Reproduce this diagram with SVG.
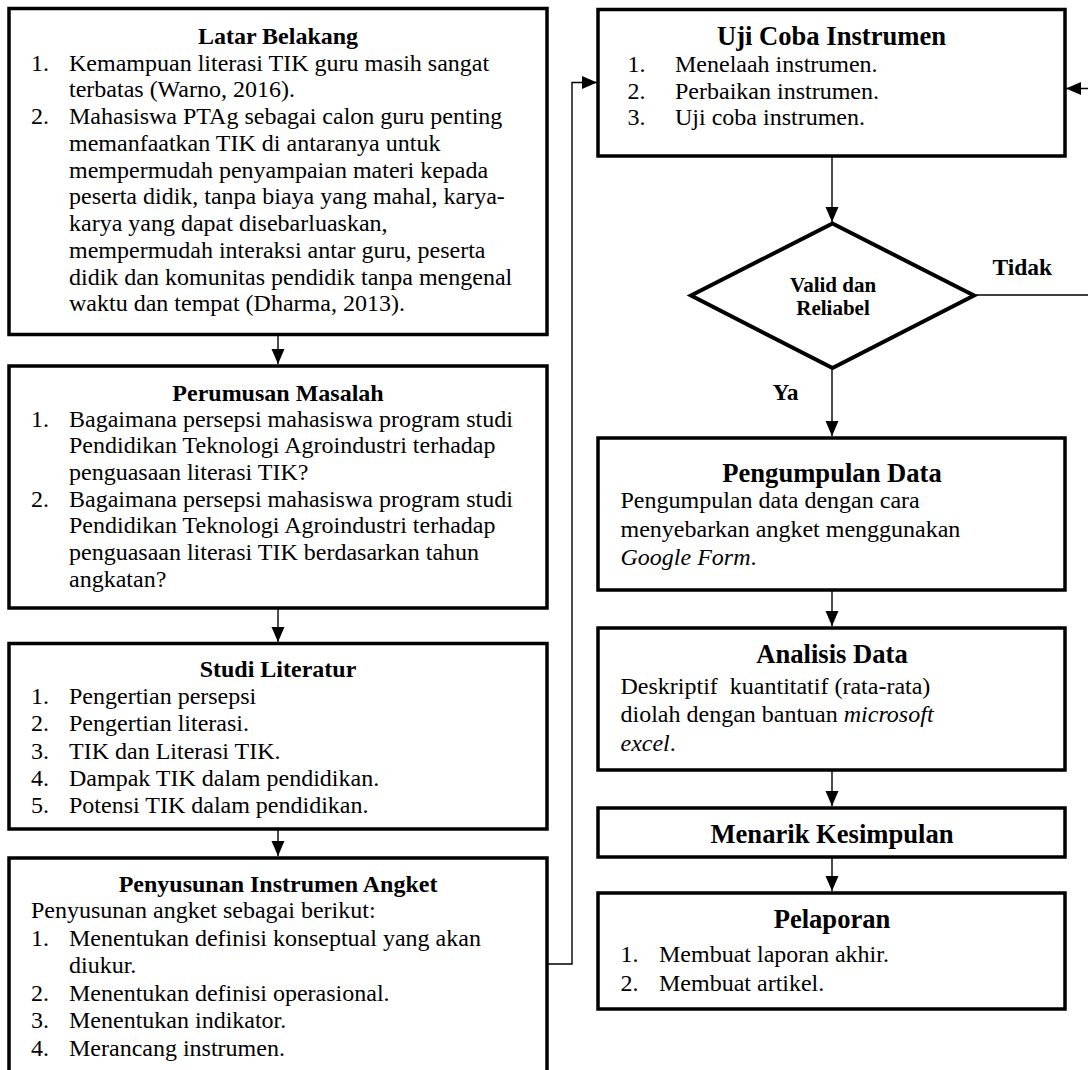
<svg xmlns="http://www.w3.org/2000/svg" width="1088" height="1070" viewBox="0 0 1088 1070">
<style>
  .box { fill: #fff; stroke: #000; stroke-width: 3.5; }
  .t { font-family: "Liberation Serif", "Times New Roman", serif; font-size: 24px; fill: #000; }
  .h { font-family: "Liberation Serif", "Times New Roman", serif; font-size: 24px; font-weight: bold; fill: #000; text-anchor: middle; }
  .h2 { font-family: "Liberation Serif", "Times New Roman", serif; font-size: 26.6px; font-weight: bold; fill: #000; text-anchor: middle; }
  .lbl { font-family: "Liberation Serif", "Times New Roman", serif; font-size: 23.5px; font-weight: bold; fill: #000; }
  .dl { font-family: "Liberation Serif", "Times New Roman", serif; font-size: 21px; font-weight: bold; fill: #000; text-anchor: middle; }
  .i { font-style: italic; }
  .c { fill: none; stroke: #000; stroke-width: 1.4; }
</style>
<defs>
  <marker id="arr" markerUnits="userSpaceOnUse" markerWidth="16" markerHeight="14" refX="15" refY="6.5" orient="auto">
    <path d="M0,0 L15,6.5 L0,13 Z" fill="#000"/>
  </marker>
</defs>
<rect width="1088" height="1070" fill="#fff"/>

<g id="connectors">
  <path class="c" d="M278,335 V364" marker-end="url(#arr)"/>
  <path class="c" d="M278,608 V642" marker-end="url(#arr)"/>
  <path class="c" d="M278,829 V856" marker-end="url(#arr)"/>
  <path class="c" d="M547,964 H572 V82.5 H597" marker-end="url(#arr)"/>
  <path class="c" d="M832,156 V222" marker-end="url(#arr)"/>
  <path class="c" d="M832,368 V436" marker-end="url(#arr)"/>
  <path class="c" d="M974,295 H1100 V88.5 H1066" marker-end="url(#arr)"/>
  <path class="c" d="M832,590 V626" marker-end="url(#arr)"/>
  <path class="c" d="M832,770 V806" marker-end="url(#arr)"/>
  <path class="c" d="M832,857 V891" marker-end="url(#arr)"/>
</g>

<g id="latar-belakang">
  <rect class="box" x="9" y="8.5" width="538" height="326"/>
  <text class="h" x="278" y="44">Latar Belakang</text>
  <text class="t" x="31" y="70.5">1.</text>
  <text class="t" x="69" y="70.5">Kemampuan literasi TIK guru masih sangat</text>
  <text class="t" x="69" y="97.25">terbatas (Warno, 2016).</text>
  <text class="t" x="31" y="124">2.</text>
  <text class="t" x="69" y="124">Mahasiswa PTAg sebagai calon guru penting</text>
  <text class="t" x="69" y="150.75">memanfaatkan TIK di antaranya untuk</text>
  <text class="t" x="69" y="177.5">mempermudah penyampaian materi kepada</text>
  <text class="t" x="69" y="204.25">peserta didik, tanpa biaya yang mahal, karya-</text>
  <text class="t" x="69" y="231">karya yang dapat disebarluaskan,</text>
  <text class="t" x="69" y="257.75">mempermudah interaksi antar guru, peserta</text>
  <text class="t" x="69" y="284.5">didik dan komunitas pendidik tanpa mengenal</text>
  <text class="t" x="69" y="311.25">waktu dan tempat (Dharma, 2013).</text>
</g>

<g id="perumusan-masalah">
  <rect class="box" x="9" y="366" width="538" height="242"/>
  <text class="h" x="278" y="400.5">Perumusan Masalah</text>
  <text class="t" x="31" y="426.7">1.</text>
  <text class="t" x="69" y="426.7">Bagaimana persepsi mahasiswa program studi</text>
  <text class="t" x="69" y="453.4">Pendidikan Teknologi Agroindustri terhadap</text>
  <text class="t" x="69" y="480">penguasaan literasi TIK?</text>
  <text class="t" x="31" y="506.7">2.</text>
  <text class="t" x="69" y="506.7">Bagaimana persepsi mahasiswa program studi</text>
  <text class="t" x="69" y="533.4">Pendidikan Teknologi Agroindustri terhadap</text>
  <text class="t" x="69" y="560">penguasaan literasi TIK berdasarkan tahun</text>
  <text class="t" x="69" y="586.7">angkatan?</text>
</g>

<g id="studi-literatur">
  <rect class="box" x="9" y="643.5" width="538" height="185.5"/>
  <text class="h" x="278" y="677">Studi Literatur</text>
  <text class="t" x="31" y="703.5">1.</text>
  <text class="t" x="69" y="703.5">Pengertian persepsi</text>
  <text class="t" x="31" y="731">2.</text>
  <text class="t" x="69" y="731">Pengertian literasi.</text>
  <text class="t" x="31" y="758.5">3.</text>
  <text class="t" x="69" y="758.5">TIK dan Literasi TIK.</text>
  <text class="t" x="31" y="786">4.</text>
  <text class="t" x="69" y="786">Dampak TIK dalam pendidikan.</text>
  <text class="t" x="31" y="813">5.</text>
  <text class="t" x="69" y="813">Potensi TIK dalam pendidikan.</text>
</g>

<g id="penyusunan-instrumen">
  <rect class="box" x="9" y="858" width="538" height="260"/>
  <text class="h" x="278" y="892">Penyusunan Instrumen Angket</text>
  <text class="t" x="31" y="918.3">Penyusunan angket sebagai berikut:</text>
  <text class="t" x="31" y="945.5">1.</text>
  <text class="t" x="69" y="945.5">Menentukan definisi konseptual yang akan</text>
  <text class="t" x="69" y="973">diukur.</text>
  <text class="t" x="31" y="1000.5">2.</text>
  <text class="t" x="69" y="1000.5">Menentukan definisi operasional.</text>
  <text class="t" x="31" y="1028">3.</text>
  <text class="t" x="69" y="1028">Menentukan indikator.</text>
  <text class="t" x="31" y="1055.5">4.</text>
  <text class="t" x="69" y="1055.5">Merancang instrumen.</text>
</g>

<g id="uji-coba">
  <rect class="box" x="598" y="9.5" width="467" height="146.5"/>
  <text class="h2" x="831.5" y="45">Uji Coba Instrumen</text>
  <text class="t" x="627.5" y="72">1.</text>
  <text class="t" x="675" y="72">Menelaah instrumen.</text>
  <text class="t" x="627.5" y="98.7">2.</text>
  <text class="t" x="675" y="98.7">Perbaikan instrumen.</text>
  <text class="t" x="627.5" y="125.3">3.</text>
  <text class="t" x="675" y="125.3">Uji coba instrumen.</text>
</g>

<g id="valid-reliabel">
  <polygon points="832.5,223.5 974,295.5 832.5,368 691,295.5" fill="#fff" stroke="#000" stroke-width="4" stroke-linejoin="miter"/>
  <text class="dl" x="833" y="291.7">Valid dan</text>
  <text class="dl" x="833" y="315">Reliabel</text>
</g>

<g id="labels">
  <text class="lbl" x="992.5" y="275">Tidak</text>
  <text class="lbl" x="772.5" y="400">Ya</text>
</g>

<g id="pengumpulan-data">
  <rect class="box" x="598" y="438" width="467" height="152"/>
  <text class="h2" x="832" y="481.7">Pengumpulan Data</text>
  <text class="t" x="620.5" y="508.3">Pengumpulan data dengan cara</text>
  <text class="t" x="620.5" y="536.7">menyebarkan angket menggunakan</text>
  <text class="t" x="620.5" y="565"><tspan class="i">Google Form</tspan>.</text>
</g>

<g id="analisis-data">
  <rect class="box" x="598" y="628" width="467" height="142"/>
  <text class="h2" x="832" y="663.3">Analisis Data</text>
  <text class="t" x="620.5" y="693.5" xml:space="preserve" style="white-space:pre">Deskriptif  kuantitatif (rata-rata)</text>
  <text class="t" x="620.5" y="722">diolah dengan bantuan <tspan class="i">microsoft</tspan></text>
  <text class="t" x="620.5" y="751"><tspan class="i">excel</tspan>.</text>
</g>

<g id="menarik-kesimpulan">
  <rect class="box" x="598" y="808" width="467" height="49"/>
  <text class="h2" x="832" y="843.3">Menarik Kesimpulan</text>
</g>

<g id="pelaporan">
  <rect class="box" x="598" y="893" width="467" height="116"/>
  <text class="h2" x="832" y="928.3">Pelaporan</text>
  <text class="t" x="620.5" y="962">1.</text>
  <text class="t" x="659" y="962">Membuat laporan akhir.</text>
  <text class="t" x="620.5" y="990.5">2.</text>
  <text class="t" x="659" y="990.5">Membuat artikel.</text>
</g>
</svg>
